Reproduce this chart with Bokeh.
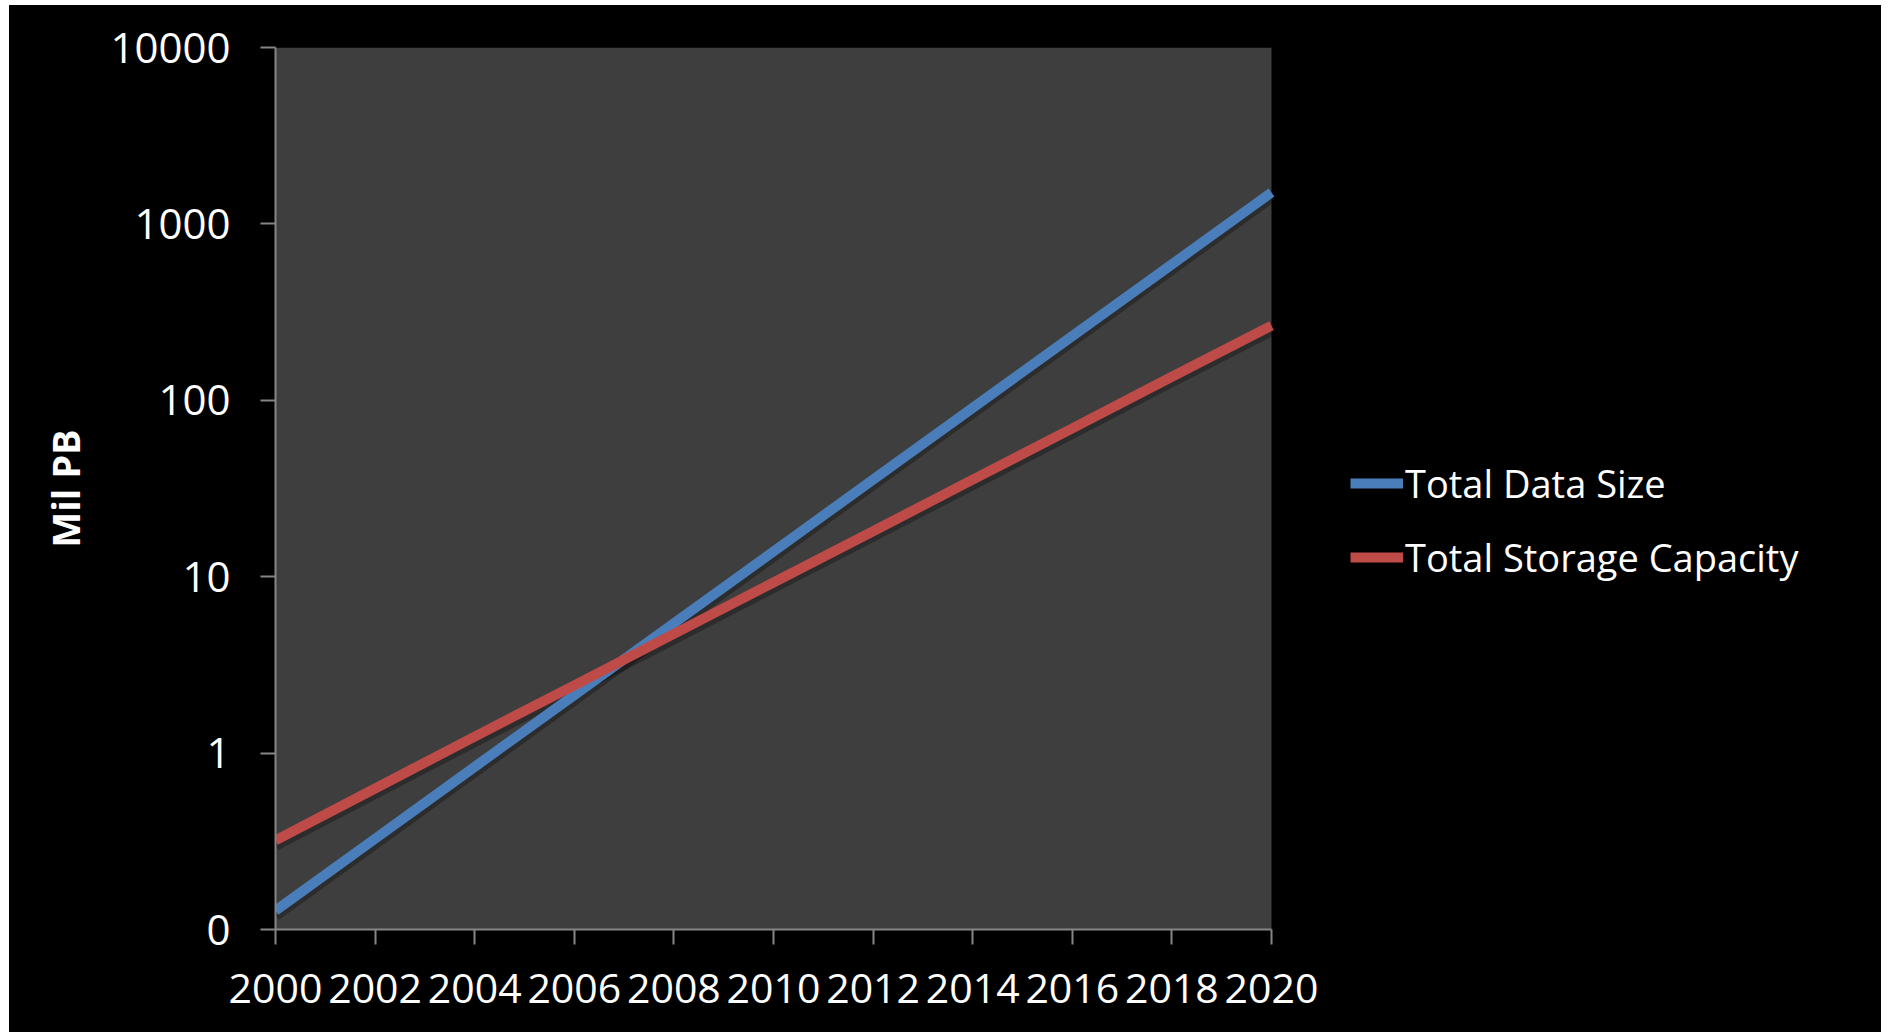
from bokeh.plotting import figure
from bokeh.models import (ColumnDataSource, FixedTicker, CustomJSTickFormatter,
                          Legend, LegendItem, BoxAnnotation)
from bokeh.embed import file_html
from bokeh.resources import INLINE

# Growth of data volume vs. storage capacity, million petabytes (log scale)
years = [2000, 2002, 2004, 2006, 2008, 2010, 2012, 2014, 2016, 2018, 2020]
total_data_size = [0.128, 0.327, 0.836, 2.13, 5.45, 13.9, 35.5, 90.6, 231, 590, 1507]
total_storage_capacity = [0.32, 0.63, 1.24, 2.42, 4.74, 9.27, 18.1, 35.5, 69.3, 136, 265]

series_names = ["Total Data Size", "Total Storage Capacity"]
series_colors = ["#4a7ebb", "#be4b48"]

y_ticks = [0.1, 1, 10, 100, 1000, 10000]
x_ticks = years

FONT = "Open Sans"
AXIS_GRAY = "#868686"
PLOT_BG = "#3e3e3e"

# The frame runs to the right edge so the legend can sit beside the plot area;
# the shaded plot area and the x axis are limited to 2000-2020.
x_end = 2000 + 20 * (1872 - 266) / 996

p = figure(width=1872, height=1027,
           x_range=(2000, x_end), y_range=(0.1, 10000),
           y_axis_type="log",
           output_backend="svg", toolbar_location=None,
           background_fill_color="black", border_fill_color="black",
           outline_line_color=None,
           min_border_left=266, min_border_right=0,
           min_border_top=42, min_border_bottom=103)
p.styles = {"margin-left": "9px", "margin-top": "5px", "background-color": "black"}

p.xgrid.visible = False
p.ygrid.visible = False

p.add_layout(BoxAnnotation(left=x_ticks[0], right=x_ticks[-1],
                           fill_color=PLOT_BG, fill_alpha=1,
                           line_color=None, level="underlay"))

src = ColumnDataSource(dict(
    year=years,
    data=total_data_size,
    storage=total_storage_capacity,
    data_shadow=[v * 10 ** -0.028 for v in total_data_size],
    storage_shadow=[v * 10 ** -0.028 for v in total_storage_capacity],
))

# soft drop shadows beneath each line
p.line("year", "data_shadow", source=src, line_color="black", line_alpha=0.28,
       line_width=11)
p.line("year", "storage_shadow", source=src, line_color="black", line_alpha=0.28,
       line_width=11)

r_data = p.line("year", "data", source=src, line_color=series_colors[0],
                line_width=10)
r_storage = p.line("year", "storage", source=src, line_color=series_colors[1],
                   line_width=10)

# x axis
xa = p.xaxis[0]
xa.bounds = (x_ticks[0], x_ticks[-1])
xa.ticker = FixedTicker(ticks=x_ticks)
xa.minor_tick_line_color = None
xa.major_tick_out = 15
xa.major_tick_in = 0
xa.axis_line_color = AXIS_GRAY
xa.axis_line_width = 2
xa.major_tick_line_color = AXIS_GRAY
xa.major_tick_line_width = 2
xa.major_label_text_color = "white"
xa.major_label_text_font = FONT
xa.major_label_text_font_size = "41px"
xa.major_label_standoff = 29

# y axis
ya = p.yaxis[0]
ya.ticker = FixedTicker(ticks=y_ticks)
ya.formatter = CustomJSTickFormatter(code="return tick < 1 ? '0' : tick.toFixed(0);")
ya.minor_tick_line_color = None
ya.major_tick_out = 15
ya.major_tick_in = 0
ya.axis_line_color = AXIS_GRAY
ya.axis_line_width = 2
ya.major_tick_line_color = AXIS_GRAY
ya.major_tick_line_width = 2
ya.major_label_text_color = "white"
ya.major_label_text_font = FONT
ya.major_label_text_font_size = "42px"
ya.major_label_standoff = 30
ya.axis_label = "Mil PB"
ya.axis_label_text_color = "white"
ya.axis_label_text_font = FONT
ya.axis_label_text_font_style = "bold"
ya.axis_label_text_font_size = "38px"
ya.axis_label_standoff = 16

legend = Legend(
    items=[LegendItem(label=series_names[0], renderers=[r_data]),
           LegendItem(label=series_names[1], renderers=[r_storage])],
    location=(1075, 342),
    orientation="vertical",
    background_fill_alpha=0, border_line_alpha=0,
    padding=0, margin=0, spacing=14,
    glyph_width=53, glyph_height=60, label_height=60,
    label_standoff=2,
    label_text_color="white", label_text_font=FONT,
    label_text_font_size="38px",
)
p.add_layout(legend)

open("out.html", "w").write(file_html(p, INLINE))
